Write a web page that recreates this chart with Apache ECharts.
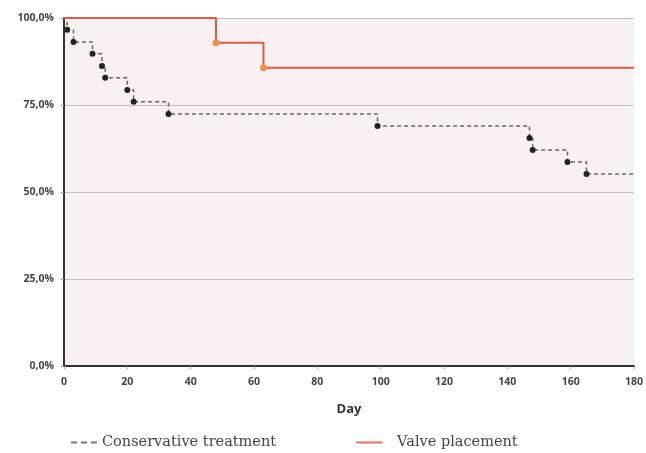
<!DOCTYPE html>
<html>
<head>
<meta charset="utf-8">
<script src="https://cdn.jsdelivr.net/npm/echarts@6/dist/echarts.min.js"></script>
<style>
  html, body { margin: 0; padding: 0; background: #fff; }
  #main { width: 646px; height: 453px; }
</style>
</head>
<body>
<div id="main"></div>
<script>
// Kaplan-Meier style survival curves
const consDays = [0, 1, 3, 9, 12, 13, 20, 22, 33, 99, 147, 148, 159, 165, 180];
const consSurv = [100, 96.6, 93.1, 89.7, 86.2, 82.8, 79.3, 75.9, 72.4, 69.0, 65.5, 62.1, 58.6, 55.2, 55.2];
const valveDays = [0, 48, 63, 180];
const valveSurv = [100, 92.9, 85.7, 85.7];

const chart = echarts.init(document.getElementById('main'));

// first and last points are only line anchors, no marker
function toPoints(days, surv) {
  return days.map((d, i) => {
    const item = { value: [d, surv[i]] };
    if (i === 0 || i === days.length - 1) item.symbol = 'none';
    return item;
  });
}

const labelFont = { color: '#444', fontSize: 10.5, fontWeight: 'bold', fontFamily: 'Open Sans' };

const option = {
  animation: false,
  grid: {
    left: 64, right: 10, top: 18, bottom: 87,
    show: true, backgroundColor: '#f8f1f3', borderWidth: 0
  },
  legend: {
    left: 66, top: 430,
    itemGap: 80, itemWidth: 26, itemHeight: 3,
    textStyle: { fontFamily: 'DejaVu Serif', fontSize: 14.5, color: '#444' },
    data: [
      {
        name: 'Conservative treatment',
        icon: 'path://M0,0h6v2h-6z M10,0h6v2h-6z M20,0h6v2h-6z',
        itemStyle: { color: '#777', borderWidth: 0 }
      },
      {
        name: 'Valve placement',
        icon: 'path://M0,0h26v2h-26z',
        itemStyle: { color: '#e4705e', borderWidth: 0 },
        textStyle: { padding: [0, 0, 0, 10] }
      }
    ]
  },
  xAxis: {
    type: 'value', min: 0, max: 180, interval: 20,
    name: 'Day', nameLocation: 'middle', nameGap: 37,
    nameTextStyle: { color: '#333', fontSize: 13, fontWeight: 'bold', fontFamily: 'Open Sans' },
    axisLine: { show: true, lineStyle: { color: '#333', width: 2 } },
    axisTick: { show: true, length: 3, lineStyle: { color: '#999' } },
    axisLabel: Object.assign({ margin: 11 }, labelFont),
    splitLine: { show: false }
  },
  yAxis: {
    type: 'value', min: 0, max: 100, interval: 25,
    axisLine: { show: true, lineStyle: { color: '#333', width: 2 } },
    axisTick: { show: true, length: 3, lineStyle: { color: '#999' } },
    axisLabel: Object.assign({
      margin: 10,
      formatter: v => v.toFixed(1).replace('.', ',') + '%'
    }, labelFont),
    splitLine: { show: true, lineStyle: { color: '#c4bcbc', width: 1 } }
  },
  series: [
    {
      name: 'Conservative treatment',
      type: 'line', step: 'end',
      data: toPoints(consDays, consSurv),
      symbol: 'circle', symbolSize: 6,
      itemStyle: { color: '#222' },
      lineStyle: { color: '#666', width: 1.5, type: [4, 3] },
      z: 3
    },
    {
      name: 'Valve placement',
      type: 'line', step: 'end',
      data: toPoints(valveDays, valveSurv),
      symbol: 'circle', symbolSize: 7,
      itemStyle: { color: '#ef8f4a' },
      lineStyle: { color: '#dd5a45', width: 2 },
      z: 4
    }
  ]
};

chart.setOption(option);
</script>
</body>
</html>
